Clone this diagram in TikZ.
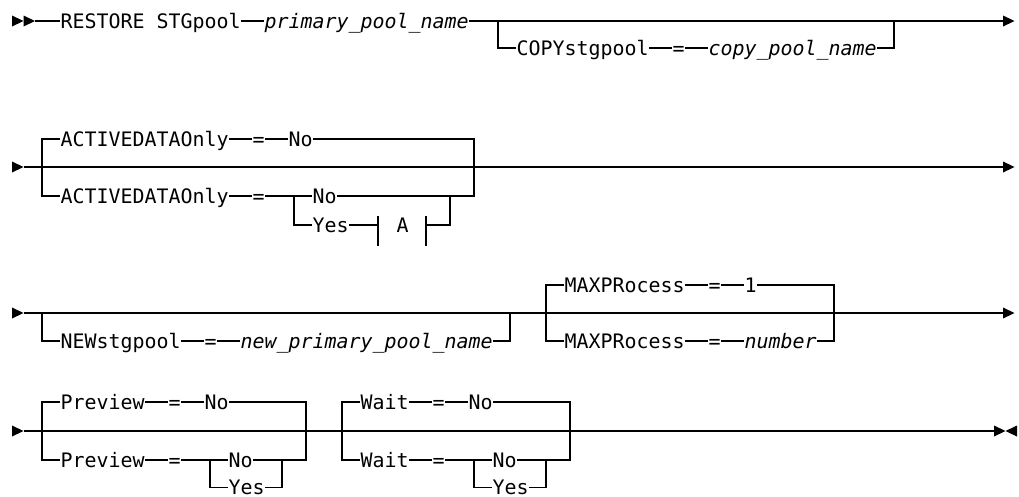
\documentclass[tikz,border=0pt]{standalone}
\usepackage{fontspec}
\newfontfamily\dmono{DejaVu Sans Mono}
\newcommand\rtri[1]{\fill #1 ++(0,-5.5) -- ++(11.5,5.5) -- ++(-11.5,5.5) -- cycle;}
\newcommand\ltri[1]{\fill #1 -- ++(11.5,-5.5) -- ++(0,11) -- cycle;}
\tikzset{
  kw/.style={anchor=west, inner sep=0pt, text height=14.53pt, text depth=0pt,
    font=\dmono\fontsize{19.93pt}{24pt}\selectfont},
  var/.style={kw, font=\dmono\itshape\fontsize{19.93pt}{24pt}\selectfont},
  rr/.style={line width=1.3pt, line join=miter}
}
\begin{document}
\begin{tikzpicture}[x=1pt,y=-1pt]
\useasboundingbox (0,0) rectangle (1019,496);
\begin{scope}[rr]
% ---------------- Row 1 ----------------
\rtri{(12,21)} \rtri{(23.5,21)}
\coordinate (r1s) at (35,21);
\coordinate (r1e) at (1003,21);
\node[kw] (restore) at (60,21) {RESTORE STGpool};
\node[var] (prim) at (264,21) {primary\_pool\_name};
\draw (r1s) -- (restore.west);
\draw (restore.east) -- (prim.west);
\draw (prim.east) -- (r1e);
\rtri{(r1e)}
\coordinate (c1l) at (498,21);
\coordinate (c1r) at (894,21);
\node[kw] (copy) at (516,48) {COPYstgpool};
\node[kw] (copyeq) at (672,48) {=};
\node[var] (copyv) at (708,48) {copy\_pool\_name};
\draw (c1l) |- (copy.west);
\draw (copy.east) -- (copyeq.west);
\draw (copyeq.east) -- (copyv.west);
\draw (copyv.east) -| (c1r);
% ---------------- Row 2 ----------------
\rtri{(12,167)}
\coordinate (r2s) at (23.5,167);
\coordinate (r2e) at (1003,167);
\draw (r2s) -- (r2e);
\rtri{(r2e)}
\coordinate (g2l) at (42,167);
\coordinate (g2r) at (474,167);
\node[kw] (ad1) at (60,139) {ACTIVEDATAOnly};
\node[kw] (ad1eq) at (252,139) {=};
\node[kw] (ad1no) at (288,139) {No};
\node[kw] (ad2) at (60,196) {ACTIVEDATAOnly};
\node[kw] (ad2eq) at (252,196) {=};
\node[kw] (ad2no) at (312,196) {No};
\node[kw] (ad2yes) at (312,225) {Yes};
\node[kw] (fragA) at (396,225) {A};
\coordinate (in2l) at (294,196);
\coordinate (barL) at (378,225);
\coordinate (barR) at (426,225);
\coordinate (in2r) at (450,225);
\draw (ad1.west) -| (g2l) |- (ad2.west);
\draw (ad1.east) -- (ad1eq.west);
\draw (ad1eq.east) -- (ad1no.west);
\draw (ad1no.east) -| (g2r) |- (ad2no.east);
\draw (ad2.east) -- (ad2eq.west);
\draw (ad2eq.east) -- (ad2no.west);
\draw (in2l) |- (ad2yes.west);
\draw (ad2yes.east) -- (barL);
\draw (barL |- 0,216) -- (barL |- 0,246);
\draw (barR |- 0,216) -- (barR |- 0,246);
\draw (barR) -- (in2r) -- (in2r |- ad2no.east);
% ---------------- Row 3 ----------------
\rtri{(12,313)}
\coordinate (r3s) at (23.5,313);
\coordinate (r3e) at (1003,313);
\draw (r3s) -- (r3e);
\rtri{(r3e)}
\coordinate (n3l) at (42,313);
\coordinate (n3r) at (510,313);
\node[kw] (new) at (60,341) {NEWstgpool};
\node[kw] (neweq) at (204,341) {=};
\node[var] (newv) at (240,341) {new\_primary\_pool\_name};
\draw (n3l) |- (new.west);
\draw (new.east) -- (neweq.west);
\draw (neweq.east) -- (newv.west);
\draw (newv.east) -| (n3r);
\coordinate (m3l) at (546,313);
\coordinate (m3r) at (834,313);
\node[kw] (mx1) at (564,285) {MAXPRocess};
\node[kw] (mx1eq) at (708,285) {=};
\node[kw] (mx1v) at (744,285) {1};
\node[kw] (mx2) at (564,341) {MAXPRocess};
\node[kw] (mx2eq) at (708,341) {=};
\node[var] (mx2v) at (744,341) {number};
\draw (mx1.west) -| (m3l) |- (mx2.west);
\draw (mx1.east) -- (mx1eq.west);
\draw (mx1eq.east) -- (mx1v.west);
\draw (mx1v.east) -| (m3r) |- (mx2v.east);
\draw (mx2.east) -- (mx2eq.west);
\draw (mx2eq.east) -- (mx2v.west);
% ---------------- Row 4 ----------------
\rtri{(12,431)}
\coordinate (r4s) at (23.5,431);
\coordinate (r4e) at (994,431);
\draw (r4s) -- (r4e);
\rtri{(r4e)}
\ltri{(1005.5,431)}
\coordinate (p4l) at (42,431);
\coordinate (p4r) at (306,431);
\node[kw] (pv1) at (60,402) {Preview};
\node[kw] (pv1eq) at (168,402) {=};
\node[kw] (pv1no) at (204,402) {No};
\node[kw] (pv2) at (60,460) {Preview};
\node[kw] (pv2eq) at (168,460) {=};
\node[kw] (pv2no) at (228,460) {No};
\node[kw] (pv2yes) at (228,487.5) {Yes};
\coordinate (pin) at (210,460);
\coordinate (pinr) at (282,460);
\draw (pv1.west) -| (p4l) |- (pv2.west);
\draw (pv1.east) -- (pv1eq.west);
\draw (pv1eq.east) -- (pv1no.west);
\draw (pv1no.east) -| (p4r) |- (pv2no.east);
\draw (pv2.east) -- (pv2eq.west);
\draw (pv2eq.east) -- (pv2no.west);
\draw (pin) |- (pv2yes.west);
\draw (pv2yes.east) -| (pinr);
\coordinate (w4l) at (342,431);
\coordinate (w4r) at (570,431);
\node[kw] (wt1) at (360,402) {Wait};
\node[kw] (wt1eq) at (432,402) {=};
\node[kw] (wt1no) at (468,402) {No};
\node[kw] (wt2) at (360,460) {Wait};
\node[kw] (wt2eq) at (432,460) {=};
\node[kw] (wt2no) at (492,460) {No};
\node[kw] (wt2yes) at (492,487.5) {Yes};
\coordinate (win) at (474,460);
\coordinate (winr) at (546,460);
\draw (wt1.west) -| (w4l) |- (wt2.west);
\draw (wt1.east) -- (wt1eq.west);
\draw (wt1eq.east) -- (wt1no.west);
\draw (wt1no.east) -| (w4r) |- (wt2no.east);
\draw (wt2.east) -- (wt2eq.west);
\draw (wt2eq.east) -- (wt2no.west);
\draw (win) |- (wt2yes.west);
\draw (wt2yes.east) -| (winr);
\end{scope}
\end{tikzpicture}
\end{document}
